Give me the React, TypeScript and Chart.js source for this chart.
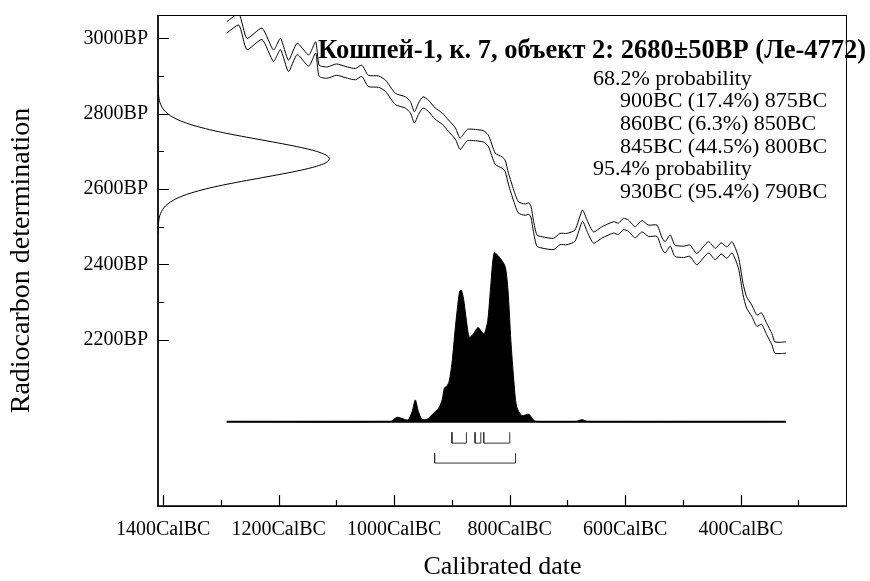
import React, { useEffect, useRef } from "react";
import { Chart, registerables } from "chart.js";

Chart.register(...registerables);

// Axis ranges (cal BC on x, reversed; BP on y)
const X_MIN = 216;
const X_MAX = 1409;
const Y_MIN = 1758;
const Y_MAX = 3062;

const xTickValues = [1400, 1300, 1200, 1100, 1000, 900, 800, 700, 600, 500, 400, 300];
const xLabelValues = [1400, 1200, 1000, 800, 600, 400];
const yTickValues = [2200, 2300, 2400, 2500, 2600, 2700, 2800, 2900, 3000];
const yLabelValues = [3000, 2800, 2600, 2400, 2200];

// Calibration curve (mid values, BP) and its half width
const curveYears = [
  1290, 1269, 1255, 1229, 1209, 1197, 1183, 1168, 1148, 1136,
  1130, 1116, 1100, 1081, 1067, 1056, 1045, 1027, 1015, 998,
  981, 972, 965, 958, 950, 941, 929, 917, 906, 894,
  886, 877, 872, 846, 837, 825, 813, 808, 802, 793,
  785, 773, 767, 763, 759, 753, 744, 724, 713, 701,
  687, 674, 666, 655, 640, 620, 612, 603, 594, 583,
  571, 560, 545, 537, 531, 522, 514, 499, 488, 476,
  456, 444, 434, 424, 415, 404, 396, 390, 381, 372,
  364, 355, 346, 341, 329, 322,
];
const curveBP = [
  3029, 3050, 2985, 3012, 2954, 2985, 2927, 2972, 2941, 2976,
  2914, 2909, 2917, 2909, 2905, 2914, 2887, 2885, 2874, 2839,
  2830, 2817, 2790, 2813, 2830, 2821, 2800, 2787, 2768, 2747,
  2720, 2737, 2744, 2740, 2728, 2680, 2670, 2662, 2626, 2582,
  2551, 2545, 2548, 2538, 2502, 2463, 2458, 2454, 2467, 2467,
  2476, 2529, 2502, 2471, 2485, 2498, 2494, 2507, 2502, 2485,
  2501, 2489, 2489, 2458, 2445, 2463, 2436, 2433, 2436, 2414,
  2445, 2427, 2442, 2431, 2445, 2405, 2334, 2299, 2277, 2250,
  2256, 2228, 2201, 2179, 2178, 2179,
];
const curveHalfWidth = 15;

// Calibrated probability distribution (relative)
const distYears = [
  1290, 1007, 995, 984, 976, 969, 963.5, 958, 952, 943,
  932, 923, 917, 913, 909, 905, 900, 894, 887, 884,
  880, 875, 870, 863, 855, 848, 844, 838, 833, 827,
  819, 808, 803, 798, 793, 788, 779, 767, 759, 753,
  686, 675, 664, 322,
];
const distProb = [
  0, 0, 0.026, 0.016, 0.01, 0.059, 0.129, 0.059, 0.014, 0.014,
  0.05, 0.08, 0.129, 0.2, 0.21, 0.237, 0.346, 0.563, 0.77, 0.78,
  0.73, 0.6, 0.5, 0.52, 0.558, 0.53, 0.52, 0.6, 0.8, 1.0,
  0.98, 0.92, 0.78, 0.48, 0.247, 0.089, 0.036, 0.044, 0.01, 0,
  0, 0.012, 0, 0,
];
const DIST_BASE = 1982;
const DIST_SCALE = 448;

// Radiocarbon measurement distribution on the BP axis
const measBP = [
  2880, 2870, 2860, 2850, 2840, 2830, 2820, 2810, 2800, 2790,
  2780, 2770, 2760, 2750, 2740, 2730, 2720, 2710, 2700, 2690,
  2680, 2670, 2660, 2650, 2640, 2630, 2620, 2610, 2600, 2590,
  2580, 2570, 2560, 2550, 2540, 2530, 2520, 2510, 2500, 2490, 2480,
];
const measDens = [
  0.0003, 0.0007, 0.0015, 0.003, 0.006, 0.011, 0.02, 0.034, 0.056, 0.089,
  0.135, 0.198, 0.278, 0.375, 0.487, 0.607, 0.726, 0.835, 0.923, 0.98,
  1, 0.98, 0.923, 0.835, 0.726, 0.607, 0.487, 0.375, 0.278, 0.198,
  0.135, 0.089, 0.056, 0.034, 0.02, 0.011, 0.006, 0.003, 0.0015, 0.0007, 0.0003,
];
const MEAS_SCALE = 297;

// Ranges
const range68 = [[900, 875], [860, 850], [845, 800]];
const range95 = [[930, 790]];
const BR68_TOP = 1954;
const BR68_BOT = 1925;
const BR95_TOP = 1898;
const BR95_BOT = 1872;

const titleText = "Кошпей-1, к. 7, объект 2: 2680±50BP (Ле-4772)";
const probLines = [
  { text: "68.2% probability", indent: false },
  { text: "900BC (17.4%) 875BC", indent: true },
  { text: "860BC (6.3%) 850BC", indent: true },
  { text: "845BC (44.5%) 800BC", indent: true },
  { text: "95.4% probability", indent: false },
  { text: "930BC (95.4%) 790BC", indent: true },
];

const FONT = "'Liberation Serif', 'Times New Roman', serif";

function bracketData(r: number[], top: number, bot: number) {
  return [
    { x: r[0], y: top },
    { x: r[0], y: bot },
    { x: r[1], y: bot },
    { x: r[1], y: top },
  ];
}

const overlayPlugin = {
  id: "oxcalOverlay",
  afterDraw(chart: any) {
    const { ctx, chartArea, scales } = chart;
    const xs = scales.x;
    const ys = scales.y;
    ctx.save();
    // frame
    ctx.strokeStyle = "#000";
    ctx.lineWidth = 1;
    ctx.strokeRect(chartArea.left, chartArea.top + 0.5, chartArea.right - chartArea.left - 0.5, chartArea.bottom - chartArea.top);
    ctx.lineWidth = 1.5;
    ctx.beginPath();
    ctx.moveTo(chartArea.left, chartArea.top);
    ctx.lineTo(chartArea.left, chartArea.bottom);
    ctx.lineTo(chartArea.right, chartArea.bottom);
    ctx.stroke();
    // inward ticks
    ctx.lineWidth = 1.2;
    ctx.beginPath();
    xTickValues.forEach((v) => {
      const px = Math.round(xs.getPixelForValue(v)) + 0.5;
      const len = xLabelValues.includes(v) ? 11 : 6;
      ctx.moveTo(px, chartArea.bottom);
      ctx.lineTo(px, chartArea.bottom - len);
    });
    yTickValues.forEach((v) => {
      const py = Math.round(ys.getPixelForValue(v)) + 0.5;
      const len = yLabelValues.includes(v) ? 11 : 6;
      ctx.moveTo(chartArea.left, py);
      ctx.lineTo(chartArea.left + len, py);
    });
    ctx.stroke();
    // title
    ctx.fillStyle = "#000";
    ctx.textBaseline = "alphabetic";
    ctx.textAlign = "left";
    ctx.font = `bold 26.5px ${FONT}`;
    ctx.fillText(titleText, chartArea.left + 160, 58);
    ctx.font = `22px ${FONT}`;
    probLines.forEach((l, i) => {
      const x = chartArea.left + 435 + (l.indent ? 27 : 0);
      ctx.fillText(l.text, x, 84.5 + i * 22.7);
    });
    ctx.restore();
  },
};

export default function App() {
  const ref = useRef<HTMLCanvasElement | null>(null);
  useEffect(() => {
    if (!ref.current) return;
    const lineBase = {
      type: "line" as const,
      borderColor: "#000",
      borderWidth: 1,
      pointRadius: 0,
      tension: 0,
      fill: false,
    };
    const datasets: any[] = [
      {
        ...lineBase,
        label: "curve upper",
        data: curveYears.map((x, i) => ({ x, y: curveBP[i] + curveHalfWidth })),
        tension: 0.2,
      },
      {
        ...lineBase,
        label: "curve lower",
        data: curveYears.map((x, i) => ({ x, y: curveBP[i] - curveHalfWidth })),
        tension: 0.2,
      },
      {
        ...lineBase,
        label: "calibrated",
        data: distYears.map((x, i) => ({ x, y: DIST_BASE + distProb[i] * DIST_SCALE })),
        fill: { value: DIST_BASE },
        backgroundColor: "#000",
        tension: 0.25,
      },
      {
        ...lineBase,
        label: "baseline",
        borderWidth: 2,
        data: [
          { x: distYears[0], y: DIST_BASE },
          { x: distYears[distYears.length - 1], y: DIST_BASE },
        ],
      },
      {
        ...lineBase,
        label: "measurement",
        data: measBP.map((y, i) => ({ x: X_MAX - measDens[i] * MEAS_SCALE, y })),
        tension: 0.3,
      },
      ...range68.map((r) => ({
        ...lineBase,
        label: "68.2%",
        borderColor: "#333",
        data: bracketData(r, BR68_TOP, BR68_BOT),
      })),
      ...range95.map((r) => ({
        ...lineBase,
        label: "95.4%",
        borderColor: "#333",
        data: bracketData(r, BR95_TOP, BR95_BOT),
      })),
    ];

    const chart = new Chart(ref.current, {
      type: "line",
      data: { datasets },
      options: {
        animation: false,
        responsive: false,
        parsing: false,
        normalized: false,
        layout: { padding: { top: 15, right: 23, left: 0, bottom: 0 }, autoPadding: false },
        plugins: {
          legend: { display: false },
          tooltip: { enabled: false },
          title: { display: false },
        },
        scales: {
          x: {
            type: "linear",
            min: X_MIN,
            max: X_MAX,
            reverse: true,
            position: "bottom",
            afterBuildTicks: (s: any) => {
              s.ticks = xTickValues.map((v) => ({ value: v }));
            },
            afterFit: (s: any) => {
              s.height = 75;
              s.paddingLeft = 0;
              s.paddingRight = 0;
            },
            ticks: {
              autoSkip: false,
              maxRotation: 0,
              minRotation: 0,
              padding: 12,
              color: "#000",
              font: { family: FONT, size: 20, lineHeight: 1.2 },
              callback: (v: any) => (xLabelValues.includes(Number(v)) ? `${v}CalBC` : ""),
            },
            grid: { display: true, drawOnChartArea: false, drawTicks: false },
            border: { display: false },
            title: {
              display: true,
              text: "Calibrated date",
              color: "#000",
              font: { family: FONT, size: 26, lineHeight: 1 },
              padding: { top: 0, bottom: 1 },
            },
          },
          y: {
            type: "linear",
            min: Y_MIN,
            max: Y_MAX,
            position: "left",
            afterBuildTicks: (s: any) => {
              s.ticks = yTickValues.map((v) => ({ value: v }));
            },
            afterFit: (s: any) => {
              s.width = 158;
              s.paddingTop = 0;
              s.paddingBottom = 0;
            },
            ticks: {
              autoSkip: false,
              padding: 10,
              color: "#000",
              font: { family: FONT, size: 20, lineHeight: 1.2 },
              callback: (v: any) => (yLabelValues.includes(Number(v)) ? `${v}BP` : ""),
            },
            grid: { display: true, drawOnChartArea: false, drawTicks: false },
            border: { display: false },
            title: {
              display: true,
              text: "Radiocarbon determination",
              color: "#000",
              font: { family: FONT, size: 28, lineHeight: 1 },
              padding: { top: 8, bottom: 0 },
            },
          },
        },
      } as any,
      plugins: [overlayPlugin],
    });
    return () => chart.destroy();
  }, []);

  return (
    <div style={{ position: "fixed", left: 0, top: 0, width: 870, height: 581, background: "#fff" }}>
      <canvas ref={ref} width={870} height={581} style={{ width: 870, height: 581, display: "block" }} />
    </div>
  );
}
